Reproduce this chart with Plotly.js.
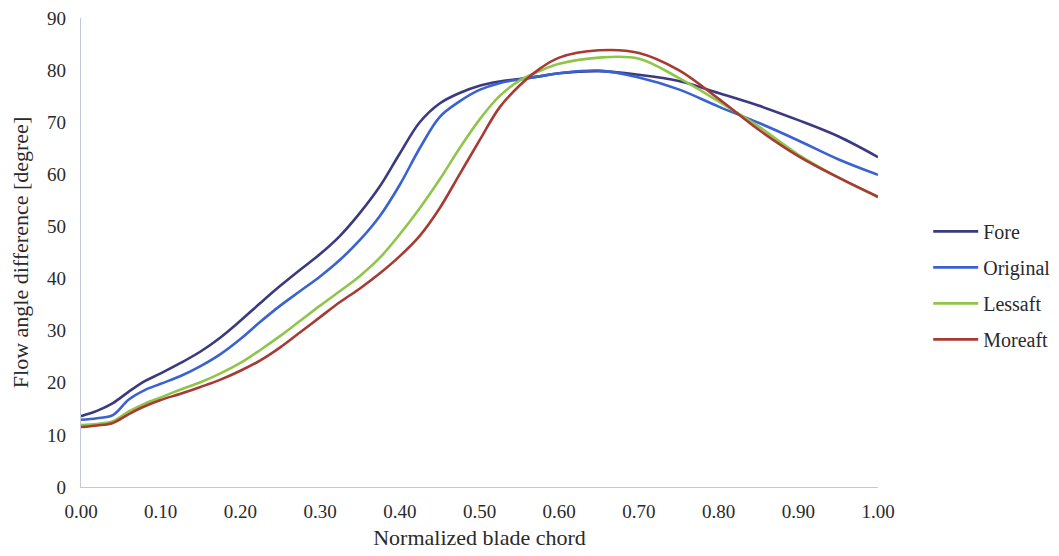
<!DOCTYPE html>
<html>
<head>
<meta charset="utf-8">
<script src="https://cdn.plot.ly/plotly-3.0.1.min.js"></script>
<style>html,body{margin:0;padding:0;background:#fff;}#chart{width:1059px;height:556px;}</style>
</head>
<body>
<div id="chart"></div>
<script>
var chord = [0, 0.02, 0.04, 0.06, 0.08, 0.10, 0.125, 0.15, 0.175, 0.2, 0.225, 0.25, 0.275, 0.3, 0.325, 0.35, 0.375, 0.4, 0.425, 0.45, 0.475, 0.5, 0.525, 0.55, 0.575, 0.6, 0.65, 0.7, 0.75, 0.8, 0.85, 0.9, 0.95, 1.0];
var fore = [13.6, 14.6, 16.1, 18.3, 20.3, 21.8, 23.8, 26.0, 28.7, 31.9, 35.3, 38.6, 41.7, 44.7, 48.2, 52.6, 57.7, 64.0, 70.0, 73.6, 75.6, 77.0, 77.8, 78.3, 78.8, 79.4, 79.8, 79.1, 77.9, 75.6, 73.2, 70.4, 67.3, 63.3];
var original = [12.9, 13.2, 13.8, 16.8, 18.6, 19.8, 21.3, 23.2, 25.5, 28.4, 31.7, 34.8, 37.6, 40.4, 43.6, 47.4, 52.0, 58.0, 65.0, 71.0, 74.0, 76.2, 77.5, 78.2, 78.8, 79.4, 79.9, 78.6, 76.3, 73.0, 69.9, 66.5, 62.9, 59.9];
var lessaft = [11.9, 12.1, 12.6, 14.5, 16.0, 17.2, 18.7, 20.1, 21.8, 23.8, 26.3, 29.0, 31.9, 34.8, 37.6, 40.5, 44.0, 48.5, 53.5, 59.0, 65.0, 70.5, 75.0, 78.0, 79.8, 81.2, 82.4, 82.2, 78.5, 74.0, 69.2, 63.8, 59.4, 55.6];
var moreaft = [11.5, 11.8, 12.3, 14.0, 15.5, 16.7, 17.9, 19.2, 20.6, 22.3, 24.3, 26.8, 29.7, 32.6, 35.5, 38.1, 41.0, 44.3, 48.2, 53.5, 60.0, 66.5, 72.8, 77.0, 80.2, 82.4, 83.8, 83.3, 80.0, 74.5, 68.6, 63.5, 59.4, 55.7];
var seriesNames = ["Fore", "Original", "Lessaft", "Moreaft"];
var seriesColors = ["#3b3a80", "#3a62d0", "#8fc64a", "#a83a34"];
var seriesData = [fore, original, lessaft, moreaft];
var xTickVals = [0, 0.1, 0.2, 0.3, 0.4, 0.5, 0.6, 0.7, 0.8, 0.9, 1.0];
var xTickText = ["0.00", "0.10", "0.20", "0.30", "0.40", "0.50", "0.60", "0.70", "0.80", "0.90", "1.00"];
var yTickVals = [0, 10, 20, 30, 40, 50, 60, 70, 80, 90];

var traces = seriesNames.map(function (n, i) {
  return {
    x: chord, y: seriesData[i], name: n, type: "scatter", mode: "lines",
    legendgroup: "g" + i,
    line: {color: seriesColors[i], width: 2.6, shape: "spline", smoothing: 1}
  };
});

var fontFam = "Liberation Serif, Times New Roman, serif";
var txt = "#2a2a2a";
var layout = {
  width: 1059, height: 556,
  margin: {l: 81, r: 181, t: 18, b: 69, autoexpand: false},
  paper_bgcolor: "#fff", plot_bgcolor: "#fff",
  font: {family: fontFam, size: 19, color: txt},
  showlegend: true,
  legend: {x: 1.063, y: 0.43, xanchor: "left", yanchor: "middle", tracegroupgap: 7, itemwidth: 45,
           font: {family: fontFam, size: 20, color: txt}, bgcolor: "rgba(0,0,0,0)"},
  xaxis: {range: [0, 1], tickvals: xTickVals, ticktext: xTickText, showgrid: false, zeroline: false,
          showline: true, linecolor: "#c4c6dc", linewidth: 1.2, ticks: "", ticklabelstandoff: 7,
          tickfont: {family: fontFam, size: 19, color: txt},
          title: {text: "Normalized blade chord", font: {family: fontFam, size: 22, color: txt}, standoff: 8}},
  yaxis: {range: [0, 90], tickvals: yTickVals, showgrid: false, zeroline: false,
          showline: true, linecolor: "#c4c6dc", linewidth: 1.2, ticks: "", ticklabelstandoff: 10,
          tickfont: {family: fontFam, size: 19, color: txt},
          title: {text: "Flow angle difference [degree]", font: {family: fontFam, size: 22, color: txt}, standoff: 12}}
};
Plotly.newPlot("chart", traces, layout, {displayModeBar: false, staticPlot: true});
</script>
</body>
</html>
